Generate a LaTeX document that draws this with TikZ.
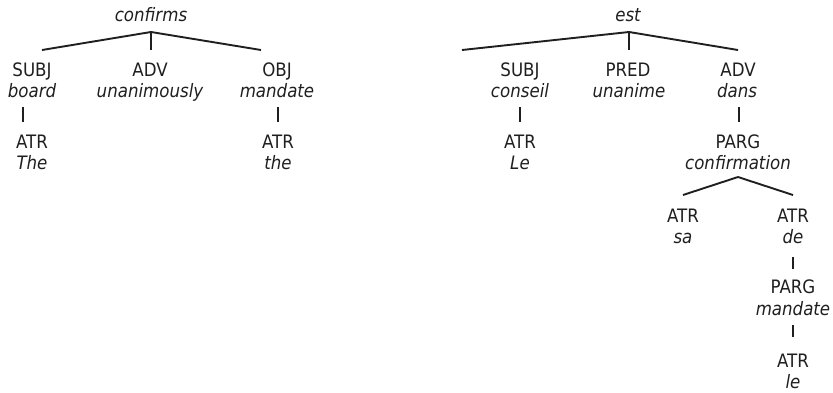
\documentclass[tikz,border=0pt]{standalone}
\usepackage{fontspec}
\setmainfont{DejaVu Sans Condensed}
\begin{document}
\begin{tikzpicture}[x=1pt,y=-1pt,
  txt/.style={anchor=base,inner sep=0pt,font=\fontsize{18.5}{22}\selectfont,text=black!88},
  wrd/.style={txt,font=\fontsize{18.5}{22}\selectfont\itshape},
  edge/.style={line width=1.9pt,black!88}]
\useasboundingbox (0,0) rectangle (833,392);
% ---------- left tree ----------
\node[wrd] (confirms) at (151,21) {confirms};
\coordinate (Lapex) at (151,32);
\coordinate (Le1) at (42,50);
\coordinate (Le2) at (151,50);
\coordinate (Le3) at (261,50);
\node[txt] (LsubjR) at (32,76) {SUBJ};
\node[wrd] (LsubjW) at (32,97) {board};
\node[txt] (LadvR) at (150,76) {ADV};
\node[wrd] (LadvW) at (150,97) {unanimously};
\node[txt] (LobjR) at (277,76) {OBJ};
\node[wrd] (LobjW) at (277,97) {mandate};
\coordinate (Lv1a) at (23,107); \coordinate (Lv1b) at (23,122);
\coordinate (Lv2a) at (278,107); \coordinate (Lv2b) at (278,122);
\node[txt] (Latr1R) at (32,148) {ATR};
\node[wrd] (Latr1W) at (32,169) {The};
\node[txt] (Latr2R) at (278,148) {ATR};
\node[wrd] (Latr2W) at (278,169) {the};
\draw[edge] (Le1) -- (Lapex) -- (Le3);
\draw[edge] (Lapex) -- (Le2);
\draw[edge] (Lv1a) -- (Lv1b);
\draw[edge] (Lv2a) -- (Lv2b);
% ---------- right tree ----------
\node[wrd] (est) at (628,21) {est};
\coordinate (Rapex) at (629,32);
\coordinate (Re1) at (462,50);
\coordinate (Re2) at (629,50);
\coordinate (Re3) at (738,50);
\node[txt] (RsubjR) at (520,76) {SUBJ};
\node[wrd] (RsubjW) at (520,97) {conseil};
\node[txt] (RpredR) at (628,76) {PRED};
\node[wrd] (RpredW) at (629,97) {unanime};
\node[txt] (RadvR) at (738,76) {ADV};
\node[wrd] (RadvW) at (737,97) {dans};
\coordinate (Rv1a) at (520,107); \coordinate (Rv1b) at (520,122);
\coordinate (Rv2a) at (739,107); \coordinate (Rv2b) at (739,122);
\node[txt] (RatrR) at (520,148) {ATR};
\node[wrd] (RatrW) at (520,169) {Le};
\node[txt] (Rparg1R) at (738,148) {PARG};
\node[wrd] (Rparg1W) at (738,169) {confirmation};
\coordinate (Rapex2) at (738,177);
\coordinate (Rf1) at (683,195);
\coordinate (Rf2) at (793,195);
\node[txt] (RsaR) at (683,222) {ATR};
\node[wrd] (RsaW) at (683,243) {sa};
\node[txt] (RdeR) at (793,222) {ATR};
\node[wrd] (RdeW) at (793,243) {de};
\coordinate (Rv3a) at (793,257); \coordinate (Rv3b) at (793,269);
\node[txt] (Rparg2R) at (793,293) {PARG};
\node[wrd] (Rparg2W) at (793,315) {mandate};
\coordinate (Rv4a) at (793,325); \coordinate (Rv4b) at (793,337);
\node[txt] (RleR) at (793,367) {ATR};
\node[wrd] (RleW) at (793,388) {le};
\draw[edge] (Re1) -- (Rapex) -- (Re3);
\draw[edge] (Rapex) -- (Re2);
\draw[edge] (Rv1a) -- (Rv1b);
\draw[edge] (Rv2a) -- (Rv2b);
\draw[edge] (Rf1) -- (Rapex2) -- (Rf2);
\draw[edge] (Rv3a) -- (Rv3b);
\draw[edge] (Rv4a) -- (Rv4b);
\end{tikzpicture}
\end{document}
